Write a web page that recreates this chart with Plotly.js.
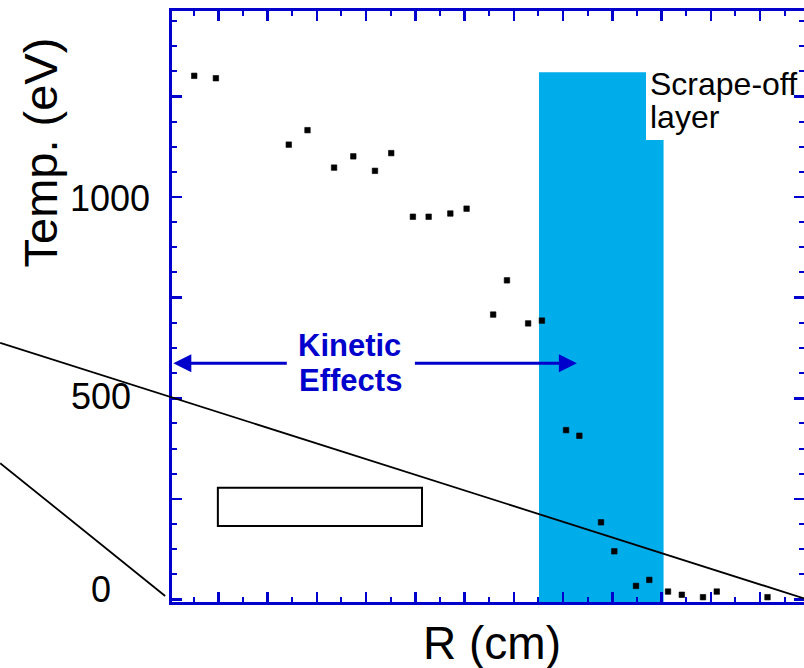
<!DOCTYPE html>
<html>
<head>
<meta charset="utf-8">
<script src="https://cdn.plot.ly/plotly-3.0.1.min.js"></script>
<style>
html,body{margin:0;padding:0;overflow:hidden;background:#fff;width:804px;height:668px;}
#chart{width:810px;height:668px;}
</style>
</head>
<body>
<div id="chart"></div>
<script>
// ---- data (R in cm, arbitrary origin; Temp in eV) ----
const radius = [0.51, 0.95, 2.43, 2.81, 3.35, 3.74, 4.18, 4.51, 4.95, 5.27, 5.71, 6.04,
                6.58, 6.86, 7.29, 7.57, 8.06, 8.33, 8.77, 9.04, 9.48, 9.75, 10.13, 10.41,
                10.84, 11.12, 12.15];
const temp = [1301, 1295, 1130, 1166, 1073, 1101, 1065, 1109, 951, 951, 959, 971,
              708, 793, 686, 693, 421, 407, 192, 120, 34, 49, 20, 12, 6, 20, 6];

// scrape-off layer band
const solR = [7.51, 10.04];
const solTop = 1310;

// straight reference lines (extend past the left axis)
const lineA_R = [-3.43, 12.89];
const lineA_T = [638, 3];
const lineB_R = [-3.43, -0.08];
const lineB_T = [339, 9];

// empty box
const boxR = [0.99, 5.135];
const boxT = [183, 278];

// kinetic effects arrows: tail -> tip
const arrowTailR = [2.42, 4.96];
const arrowTipR = [0.085, 8.28];
const arrowT = 587;

// y tick labels
const yTickVals = [0, 500, 1000];
const yTickText = ['0', '500', '1000'];

// ---- layout geometry ----
const W = 810, H = 668;
const PL = 172, PR = 804, PT = 11, PB = 602;
const xRange = [0.0589, 12.891];
const yRange = [-5.96, 1462.0];
const BLUE = '#0000cc';
const FONT = 'Liberation Sans, Arial, Helvetica, sans-serif';

const xp = px => (px - PL) / (PR - PL);
const yp = py => (PB - py) / (PB - PT);
const dx = r => (r - xRange[0]) / (xRange[1] - xRange[0]);
const dy = t => (t - yRange[0]) / (yRange[1] - yRange[0]);

const traces = [{
  x: radius, y: temp, type: 'scatter', mode: 'markers',
  marker: {color: '#000', size: 5.5, symbol: 'square', line: {width: 0.6, color: '#000'}},
  hoverinfo: 'x+y', showlegend: false
}];

const shapes = [
  {type: 'rect', xref: 'x', yref: 'y', x0: solR[0], x1: solR[1], y0: yRange[0], y1: solTop,
   fillcolor: '#00adeb', line: {width: 0}, layer: 'below'},
  // white background behind the "Scrape-off layer" label
  {type: 'rect', xref: 'paper', yref: 'paper', x0: xp(646), x1: xp(672), y0: yp(140), y1: yp(60),
   fillcolor: '#fff', line: {width: 0}, layer: 'above'},
  {type: 'rect', xref: 'x', yref: 'y', x0: boxR[0], x1: boxR[1], y0: boxT[0], y1: boxT[1],
   fillcolor: 'rgba(0,0,0,0)', line: {color: '#000', width: 2}},
  {type: 'line', xref: 'paper', yref: 'paper', x0: dx(lineA_R[0]), y0: dy(lineA_T[0]),
   x1: dx(lineA_R[1]), y1: dy(lineA_T[1]), line: {color: '#000', width: 1.8}},
  {type: 'line', xref: 'paper', yref: 'paper', x0: dx(lineB_R[0]), y0: dy(lineB_T[0]),
   x1: dx(lineB_R[1]), y1: dy(lineB_T[1]), line: {color: '#000', width: 1.8}}
];

const annotations = [];
// arrows
for (let i = 0; i < 2; i++) {
  annotations.push({
    x: arrowTipR[i], y: arrowT, xref: 'x', yref: 'y',
    ax: arrowTailR[i], ay: arrowT, axref: 'x', ayref: 'y',
    text: '', showarrow: true, arrowhead: 2, arrowsize: 1.2, arrowwidth: 3,
    arrowcolor: BLUE, standoff: 0
  });
}
// Kinetic Effects text
annotations.push({x: xp(349), y: yp(345), xref: 'paper', yref: 'paper', text: '<b>Kinetic</b>',
  showarrow: false, xanchor: 'center', yanchor: 'middle', font: {family: FONT, size: 31, color: BLUE}});
annotations.push({x: xp(350.5), y: yp(380), xref: 'paper', yref: 'paper', text: '<b>Effects</b>',
  showarrow: false, xanchor: 'center', yanchor: 'middle', font: {family: FONT, size: 31, color: BLUE}});
// Scrape-off layer
annotations.push({x: xp(646), y: yp(84.5), xref: 'paper', yref: 'paper', text: 'Scrape-off',
  showarrow: false, xanchor: 'left', yanchor: 'middle', borderpad: 3,
  font: {family: FONT, size: 32, color: '#000'}});
annotations.push({x: xp(646), y: yp(117), xref: 'paper', yref: 'paper', text: 'layer',
  showarrow: false, xanchor: 'left', yanchor: 'middle', borderpad: 3,
  font: {family: FONT, size: 32, color: '#000'}});
// y tick labels
const tickRight = [112, 132, 151];
const tickShift = [10, 1.6, -1.7];
for (let i = 0; i < yTickVals.length; i++) {
  annotations.push({x: xp(tickRight[i]), y: yTickVals[i], xref: 'paper', yref: 'y',
    text: yTickText[i], showarrow: false, xanchor: 'right', yanchor: 'middle', yshift: tickShift[i],
    borderpad: 0, font: {family: FONT, size: 36, color: '#000'}});
}
// axis titles
annotations.push({x: xp(40), y: yp(152.5), xref: 'paper', yref: 'paper', text: 'Temp. (eV)',
  textangle: -90, showarrow: false, xanchor: 'center', yanchor: 'middle',
  font: {family: FONT, size: 47, color: '#000'}});
annotations.push({x: xp(492), y: yp(643), xref: 'paper', yref: 'paper', text: 'R (cm)',
  showarrow: false, xanchor: 'center', yanchor: 'middle',
  font: {family: FONT, size: 46, color: '#000'}});

const axisCommon = {
  showgrid: false, zeroline: false, showline: true, linecolor: BLUE, linewidth: 3,
  mirror: 'allticks', ticks: 'inside', ticklen: 10, tickwidth: 2.5, tickcolor: BLUE,
  showticklabels: false, fixedrange: true
};

const layout = {
  width: W, height: H,
  margin: {l: PL, r: W - PR, t: PT, b: H - PB, pad: 0},
  paper_bgcolor: '#fff', plot_bgcolor: '#fff',
  showlegend: false,
  xaxis: Object.assign({}, axisCommon, {range: xRange, tick0: 0, dtick: 1,
    minor: {ticks: 'inside', ticklen: 5, tickwidth: 2, tickcolor: BLUE, dtick: 0.5, tick0: 0, showgrid: false}}),
  yaxis: Object.assign({}, axisCommon, {range: yRange, tick0: 0, dtick: 250,
    minor: {ticks: 'inside', ticklen: 5, tickwidth: 2, tickcolor: BLUE, dtick: 62.5, tick0: 0, showgrid: false}}),
  shapes: shapes,
  annotations: annotations
};

Plotly.newPlot('chart', traces, layout, {displayModeBar: false, staticPlot: true});
</script>
</body>
</html>
